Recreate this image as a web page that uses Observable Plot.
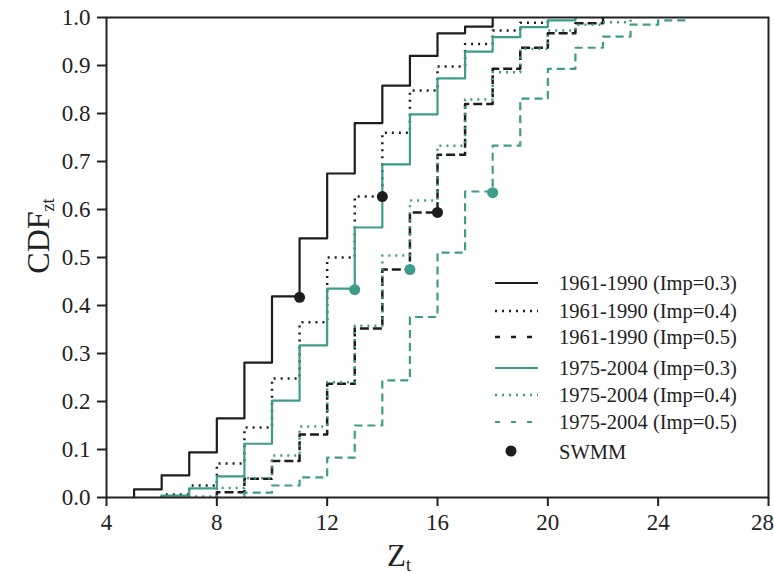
<!DOCTYPE html>
<html><head><meta charset="utf-8">
<script src="https://cdn.jsdelivr.net/npm/d3@7"></script>
<script src="https://cdn.jsdelivr.net/npm/@observablehq/plot@0.6"></script>
<style>body{margin:0;background:#fff}</style>
</head><body><div id="chart"></div>
<script>
// ---- data ----
const seriesNames = [
  "1961-1990 (Imp=0.3)", "1961-1990 (Imp=0.4)", "1961-1990 (Imp=0.5)",
  "1975-2004 (Imp=0.3)", "1975-2004 (Imp=0.4)", "1975-2004 (Imp=0.5)"
];
const z1 = [5,6,7,8,9,10,11,12,13,14,15,16,17,18];
const cdf1 = [0.017,0.046,0.094,0.165,0.281,0.419,0.54,0.675,0.78,0.858,0.92,0.967,0.981,1.0];
const z2 = [6,7,8,9,10,11,12,13,14,15,16,17,18,19,20];
const cdf2 = [0.006,0.025,0.071,0.146,0.248,0.365,0.5,0.627,0.76,0.848,0.898,0.945,0.973,0.989,1.0];
const z3 = [8,9,10,11,12,13,14,15,16,17,18,19,20,21,22];
const cdf3 = [0.011,0.039,0.076,0.131,0.237,0.352,0.475,0.594,0.714,0.82,0.893,0.937,0.967,0.988,1.0];
const z4 = [6,7,8,9,10,11,12,13,14,15,16,17,18,19,20,21];
const cdf4 = [0.004,0.019,0.044,0.112,0.202,0.317,0.435,0.5625,0.694,0.798,0.873,0.929,0.959,0.98,0.994,1.0];
const z5 = [7,8,9,10,11,12,13,14,15,16,17,18,19,20,21,22,23];
const cdf5 = [0.002,0.02,0.04,0.0875,0.148,0.24,0.358,0.504,0.619,0.733,0.829,0.886,0.935,0.973,0.985,0.99,1.0];
const z6 = [9,10,11,12,13,14,15,16,17,18,19,20,21,22,23,24,25];
const cdf6 = [0.01,0.025,0.042,0.083,0.15,0.244,0.376,0.51,0.6375,0.733,0.831,0.893,0.937,0.96,0.985,0.994,1.0];

const swmmZ = [11,14,16,13,15,18];
const swmmCdf = [0.417,0.627,0.594,0.433,0.475,0.635];
const swmmPeriod = ["1961-1990","1961-1990","1961-1990","1975-2004","1975-2004","1975-2004"];

const xTicks = [4,8,12,16,20,24,28];
const yTicks = [0,0.1,0.2,0.3,0.4,0.5,0.6,0.7,0.8,0.9,1.0];

// ---- styles ----
const BLACK = "#1d1d1d", TEAL = "#3e9c8b";
const styles = [
  {stroke: BLACK, w: 2.2, dash: null, ldash: null},
  {stroke: BLACK, w: 2.5, dash: "2,5", ldash: "2,5"},
  {stroke: BLACK, w: 2.5, dash: "9,4", ldash: "5,11"},
  {stroke: TEAL, w: 2.2, dash: null, ldash: null},
  {stroke: TEAL, w: 2.5, dash: "2,5", ldash: "2,5"},
  {stroke: TEAL, w: 2.2, dash: "8,5", ldash: "5,11"}
];

const zs = [z1,z2,z3,z4,z5,z6], cs = [cdf1,cdf2,cdf3,cdf4,cdf5,cdf6];
const lineData = zs.map((zz, i) => {
  const rows = [{z: zz[0], cdf: 0}];
  zz.forEach((z, j) => rows.push({z, cdf: cs[i][j]}));
  return rows;
});
const swmm = swmmZ.map((z, i) => ({z, cdf: swmmCdf[i], period: swmmPeriod[i]}));

const FONT = "'Liberation Serif', 'Times New Roman', serif";
const plot = Plot.plot({
  width: 774, height: 574,
  marginLeft: 106, marginRight: 6, marginTop: 17, marginBottom: 77,
  style: {fontFamily: FONT, fontSize: "23px", color: "#222", background: "white"},
  x: {domain: [4, 28], label: null},
  y: {domain: [0, 1], label: null},
  marks: [
    Plot.axisX({ticks: xTicks, tickSize: 9, tickPadding: 7, strokeWidth: 2, fontSize: 23, tickFormat: d => d, label: null}),
    Plot.axisY({ticks: yTicks, tickSize: 9, tickPadding: 7, strokeWidth: 2, fontSize: 23, tickFormat: d3.format(".1f"), label: null}),
    ...lineData.map((rows, i) => Plot.line(rows, {
      x: "z", y: "cdf", curve: "step-after",
      stroke: styles[i].stroke, strokeWidth: styles[i].w,
      strokeDasharray: styles[i].dash, strokeLinecap: "butt"
    })),
    Plot.dot(swmm, {x: "z", y: "cdf", r: 5.5, fill: d => d.period === "1961-1990" ? BLACK : TEAL, stroke: "none"}),
    Plot.frame({stroke: "#222", strokeWidth: 2})
  ]
});

const svg = d3.select(plot);
// keep the last x tick label inside the page
svg.selectAll("text").filter(function() { return this.textContent === "28"; }).attr("dx", -6);

// Axis titles with subscripts
const xl = svg.append("text").attr("x", 387).attr("y", 566).attr("text-anchor", "start")
  .attr("font-family", FONT).attr("font-size", 31).attr("fill", "#222");
xl.append("tspan").text("Z");
xl.append("tspan").attr("font-size", 18).attr("dy", 5).text("t");

const yl = svg.append("text").attr("transform", "translate(49,236) rotate(-90)")
  .attr("text-anchor", "middle")
  .attr("font-family", FONT).attr("font-size", 32).attr("fill", "#222");
yl.append("tspan").text("CDF");
yl.append("tspan").attr("font-size", 18).attr("dy", 5).text("zt");

// Legend
const lg = svg.append("g").attr("font-family", FONT).attr("font-size", 20.5)
  .attr("fill", "#222").attr("text-anchor", "start");
const rowY = [283, 311, 337, 368, 395, 422];
seriesNames.forEach((name, i) => {
  lg.append("line").attr("x1", 495).attr("x2", 538).attr("y1", rowY[i]).attr("y2", rowY[i])
    .attr("stroke", styles[i].stroke).attr("stroke-width", styles[i].w)
    .attr("stroke-dasharray", styles[i].ldash);
  lg.append("text").attr("x", 559).attr("y", rowY[i]).attr("dy", "0.35em").text(name);
});
lg.append("circle").attr("cx", 511).attr("cy", 451).attr("r", 5.5).attr("fill", BLACK);
lg.append("text").attr("x", 559).attr("y", 452).attr("dy", "0.35em").text("SWMM");

document.getElementById("chart").appendChild(plot);
</script>
</body></html>
